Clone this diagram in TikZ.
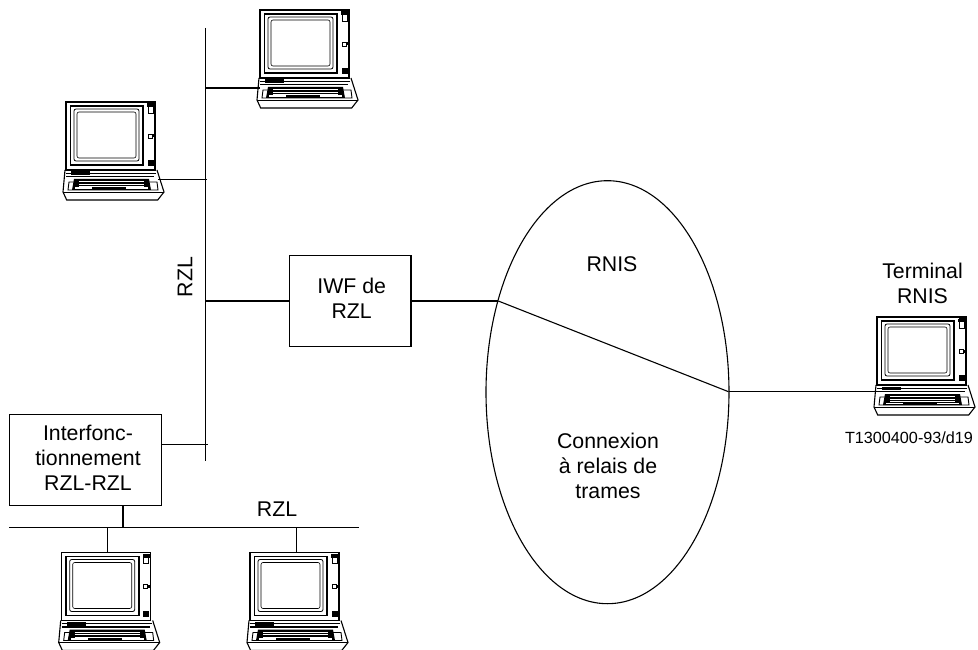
\documentclass[tikz,border=0pt]{standalone}
\usepackage{fontspec}
\setmainfont{Liberation Sans}
\usetikzlibrary{calc,shapes.geometric}
\tikzset{
  x=1pt,y=-1pt,
  wire/.style={line width=1.4pt,black},
  boxnode/.style={draw,line width=1.2pt,rectangle,align=center,inner sep=0pt,font=\fontsize{21.3}{25}\selectfont},
  lbl/.style={font=\fontsize{21.3}{25}\selectfont,align=center,inner sep=0pt},
  term/.pic={
    \draw[line width=1.1pt] (0,0) rectangle (89,68);
    \draw[line width=1.6pt] (4.5,4) rectangle (77,63);
    \draw[line width=.8pt,rounded corners=2pt] (8,7) rectangle (73,59);
    \draw[line width=.6pt,rounded corners=2pt] (11,10) rectangle (70,56);
    \draw[line width=.7pt] (82,1.5) rectangle (87,11);
    \fill (81,1.5) rectangle (88,5);
    \draw[line width=.8pt] (82,32) rectangle (86,36);
    \fill (86,32.5) rectangle (88,35.5);
    \fill (81.5,58) rectangle (87.5,64);
    % base
    \draw[line width=1.1pt] (-1,68) -- (-3,90) -- (0.7,98) -- (91.7,98) -- (98,90) -- (91,68);
    \draw[line width=.9pt] (-3,90) -- (98,90);
    \draw[line width=.9pt] (3,80) -- (91,80) -- (92,88) -- (2,88) -- cycle;
    \draw[line width=1.6pt] (0,74.5) -- (88,74.5);
    \draw[line width=.8pt] (0,71) -- (90,71);
    \fill (5,69.5) rectangle (24,73);
    \fill (8,77) -- (83,77) -- (85,88) -- (6,88) -- cycle;
    \foreach \y in {79.5,82,84.5} \draw[white,line width=.6pt] (13,\y) -- (78,\y);
    \fill[white] (9,85.5) rectangle (26,87);
    \fill[white] (60,85.5) rectangle (82,87);
  }
}
\begin{document}
\begin{tikzpicture}
\useasboundingbox (0,0) rectangle (978,650);
\fill[white] (0,0) rectangle (978,650);

\coordinate (btop) at (205.7,28);
\coordinate (bbot) at (205.7,460.7);
\draw[wire] (btop) -- (bbot);
\node[lbl,rotate=90] (rzlv) at (185,277) {RZL};

\pic at (260,10) {term};
\pic at (66,102) {term};
\pic at (877,317) {term};
\pic at (61.7,552.5) {term};
\pic at (250,552.5) {term};

\coordinate (t1) at (260,88);
\coordinate (t1b) at (205.7,88);
\draw[wire] (t1b) -- (t1);
\coordinate (t2) at (158,179.5);
\coordinate (t2b) at (207,179.5);
\draw[wire] (t2b) -- (t2);

\node[boxnode,minimum width=121.7pt,minimum height=91.4pt] (iwf) at (350.2,301) {};
\node[lbl] (iwft) at (351.7,298) {IWF de\\RZL};
\draw[wire] (iwf.west) -- (iwf.west -| btop);

\node[boxnode,minimum width=152.4pt,minimum height=91.4pt] (inter) at (85.5,460) {};
\node[lbl] (intert) at (88,457.5) {Interfonc-\\tionnement\\RZL-RZL};
\coordinate (iw) at (161.7,444.3);
\coordinate (ibus) at (207.7,444.3);
\draw[wire] (iw) -- (ibus);

\coordinate (lanl) at (9,527.7);
\coordinate (lanr) at (359,527.7);
\draw[wire] (lanl) -- (lanr);
\node[lbl] (rzlh) at (277,509) {RZL};
\coordinate (i0) at (123,527.7);
\draw[wire] (inter.south -| i0) -- (i0);
\coordinate (b1) at (107.7,527.7);
\coordinate (b2) at (296.7,527.7);
\coordinate (p1) at (107.7,552);
\coordinate (p2) at (296.7,552);
\draw[wire] (b1) -- (p1);
\draw[wire] (b2) -- (p2);

\node[draw,line width=1.1pt,ellipse,minimum width=243pt,minimum height=423pt,inner sep=0pt] (isdn) at (607.5,392.2) {};
\node[lbl] (rnis) at (612,264) {RNIS};
\node[lbl] (conn) at (608,466) {Connexion\\à relais de\\trames};

\coordinate (c1) at (498.3,301);
\coordinate (c2) at (728.5,391.7);
\coordinate (t3) at (880,391.7);
\draw[wire] (iwf.east) -- (c1);
\draw[line width=1.1pt] (c1) -- (c2);
\draw[wire] (c2) -- (t3);

\node[lbl] (termlbl) at (922.5,283) {Terminal\\RNIS};
\node[inner sep=0pt,font=\fontsize{16.2}{19}\selectfont] (ref) at (909,438) {T1300400-93/d19};
\end{tikzpicture}
\end{document}
